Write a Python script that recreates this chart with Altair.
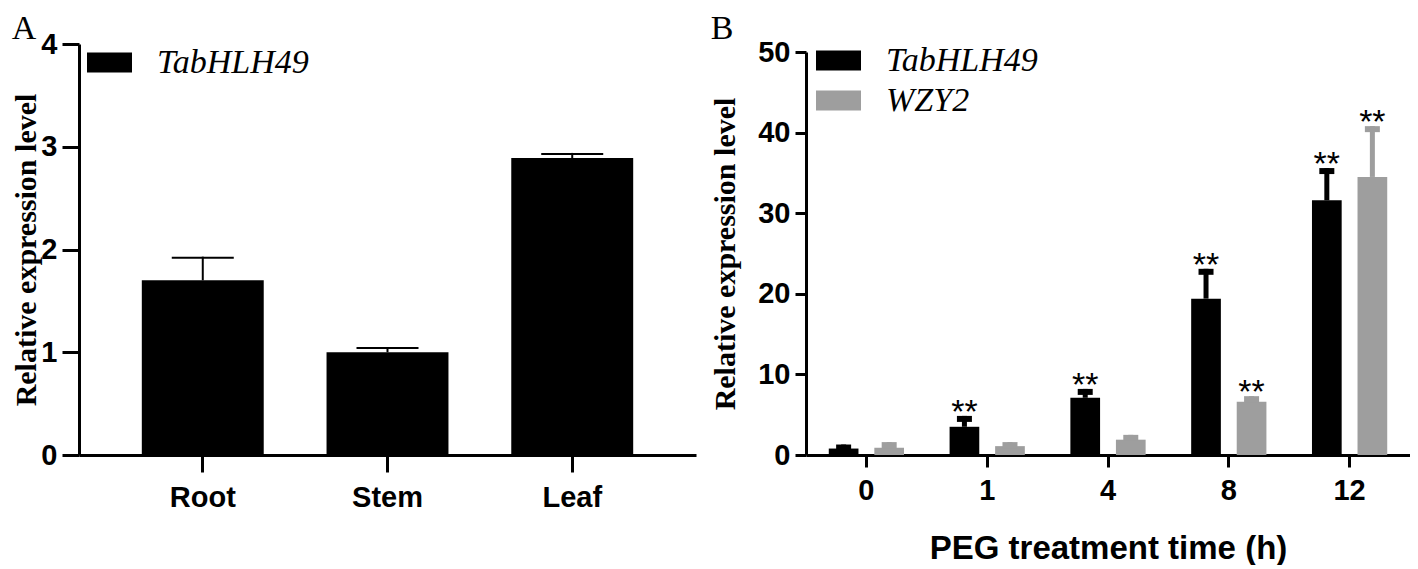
import altair as alt
import pandas as pd

# ---------------- data ----------------
tissues = ["Root", "Stem", "Leaf"]
tissue_mean = [1.70, 1.00, 2.89]
tissue_err = [1.93, 1.05, 2.94]

times = ["0", "1", "4", "8", "12"]
genes = ["TabHLH49", "WZY2"]
tab_mean = [0.8, 3.5, 7.1, 19.4, 31.6]
tab_err = [1.3, 4.85, 8.2, 23.1, 35.6]
tab_sig = [False, True, True, True, True]
wzy_mean = [0.9, 1.1, 1.9, 6.6, 34.5]
wzy_err = [1.6, 1.6, 2.5, 7.3, 40.8]
wzy_sig = [False, False, False, True, True]

gene_colors = ["#000000", "#9e9e9e"]

SANS = "Liberation Sans"
SERIF = "Liberation Serif"

dfA = pd.DataFrame({"tissue": tissues, "mean": tissue_mean, "err": tissue_err,
                    "gene": ["TabHLH49"] * len(tissues)})

rows = []
for i, t in enumerate(times):
    rows.append({"time": t, "gene": genes[0], "mean": tab_mean[i], "err": tab_err[i], "sig": tab_sig[i]})
    rows.append({"time": t, "gene": genes[1], "mean": wzy_mean[i], "err": wzy_err[i], "sig": wzy_sig[i]})
dfB = pd.DataFrame(rows)

legend_common = dict(
    title=None, orient="none", padding=0,
    symbolType="M-1,-0.444H1V0.444H-1Z", symbolSize=2025, symbolStrokeWidth=0,
    labelFont=SERIF, labelFontStyle="italic", labelFontSize=34, labelColor="black",
    labelOffset=25, labelLimit=400, rowPadding=-1, symbolOpacity=1,
)

def yaxis(values, tick, pad, tpad):
    return alt.Axis(values=values, format="d", tickSize=tick, tickWidth=3, tickColor="black",
                    domainWidth=3, domainColor="black", grid=False,
                    labelFont=SANS, labelFontWeight="bold", labelFontSize=29, labelColor="black",
                    labelPadding=pad, title="Relative expression level",
                    titleFont=SERIF, titleFontWeight="bold", titleFontSize=30,
                    titleColor="black", titlePadding=tpad)

# ---------------- panel A ----------------
HEIGHT = 411
xA = alt.X("tissue:N", sort=tissues,
           scale=alt.Scale(paddingInner=0.34, paddingOuter=0.34),
           axis=alt.Axis(title=None, labelAngle=0, tickSize=17, tickWidth=3, tickColor="black",
                         domainWidth=3, domainColor="black", labelFont=SANS,
                         labelFontWeight="bold", labelFontSize=29, labelColor="black",
                         labelPadding=11))
yA_scale = alt.Scale(domain=[0, 4], nice=False)

barsA = alt.Chart(dfA).mark_bar().encode(
    x=xA,
    y=alt.Y("mean:Q", scale=yA_scale, axis=yaxis([0, 1, 2, 3, 4], 17, 5, -1)),
    color=alt.Color("gene:N", scale=alt.Scale(domain=["TabHLH49"], range=["#000000"]),
                    legend=alt.Legend(legendX=8, legendY=-4, **legend_common)),
)
stemA = alt.Chart(dfA).mark_rule(strokeWidth=2, color="black").encode(
    x=alt.X("tissue:N", sort=tissues), y="mean:Q", y2="err:Q")
capA = alt.Chart(dfA).mark_tick(orient="horizontal", size=62, thickness=2, color="black",
                                yOffset=1, opacity=1).encode(
    x=alt.X("tissue:N", sort=tissues), y="err:Q")

panelA = alt.layer(barsA, stemA, capA).properties(
    width=617, height=HEIGHT,
    title=alt.TitleParams("A", anchor="start", frame="bounds", font=SERIF, fontSize=34,
                          fontWeight="normal", color="black", baseline="top", offset=-16),
)

# ---------------- panel B ----------------
xB = alt.X("time:N", sort=times, scale=alt.Scale(paddingInner=0, paddingOuter=0),
           axis=alt.Axis(title="PEG treatment time (h)", labelAngle=0, tickSize=12, tickWidth=3,
                         tickColor="black", domainWidth=3, domainColor="black",
                         labelFont=SANS, labelFontWeight="bold", labelFontSize=29,
                         labelColor="black", labelPadding=9, titleFont=SANS,
                         titleFontWeight="bold", titleFontSize=33, titleColor="black",
                         titlePadding=27))
xoB = alt.XOffset("gene:N", sort=genes, scale=alt.Scale(paddingInner=0.348, paddingOuter=0.5))
# the 50 tick sits 8 px below the top of panel A's plot area
yB_scale = alt.Scale(domain=[0, 50], nice=False, range=[HEIGHT, 8])

barsB = alt.Chart(dfB).mark_bar().encode(
    x=xB, xOffset=xoB,
    y=alt.Y("mean:Q", scale=yB_scale, axis=yaxis([0, 10, 20, 30, 40, 50], 11, 5, 17)),
    color=alt.Color("gene:N", sort=genes, scale=alt.Scale(domain=genes, range=gene_colors),
                    legend=alt.Legend(legendX=10, legendY=-6, **legend_common)),
)
stemB = alt.Chart(dfB).mark_rule(strokeWidth=5).encode(
    x=alt.X("time:N", sort=times), xOffset=alt.XOffset("gene:N", sort=genes),
    y="mean:Q", y2="err:Q",
    color=alt.Color("gene:N", sort=genes, legend=None))
capB = alt.Chart(dfB).mark_tick(orient="horizontal", size=15, thickness=6, yOffset=3, opacity=1).encode(
    x=alt.X("time:N", sort=times), xOffset=alt.XOffset("gene:N", sort=genes),
    y="err:Q",
    color=alt.Color("gene:N", sort=genes, legend=None))
starB = alt.Chart(dfB).transform_filter("datum.sig").mark_text(
    text="**", font=SANS, fontSize=34, color="black", baseline="alphabetic", dy=7).encode(
    x=alt.X("time:N", sort=times), xOffset=alt.XOffset("gene:N", sort=genes),
    y="err:Q")

panelB = alt.layer(barsB, stemB, capB, starB).properties(
    width=604, height=HEIGHT,
    title=alt.TitleParams("B", anchor="start", frame="bounds", font=SERIF, fontSize=34,
                          fontWeight="normal", color="black", baseline="top", offset=-8),
)

chart = alt.hconcat(panelA, panelB, spacing=14).resolve_scale(
    color="independent").resolve_legend(color="independent").properties(
    padding={"left": 3, "top": 4, "right": 0, "bottom": 0},
    background="white").configure_view(strokeWidth=0)

chart.save("out.html", embed_options={"renderer": "svg", "actions": False})
